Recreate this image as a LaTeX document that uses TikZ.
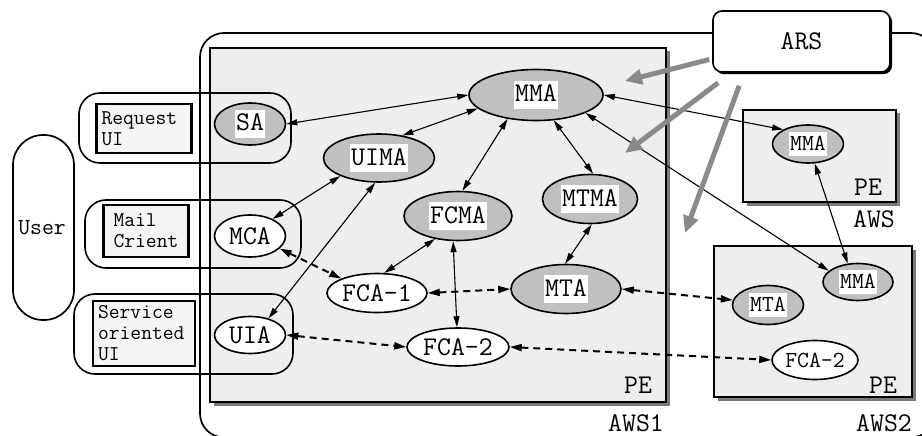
\documentclass[tikz,border=0pt]{standalone}
\usepackage{fontspec}
\usetikzlibrary{shapes.geometric,arrows.meta,shadows}
\definecolor{peFill}{HTML}{EEEEEE}
\definecolor{boxFill}{HTML}{F5F5F5}
\definecolor{ellGray}{HTML}{C0C0C0}
\definecolor{arrGray}{HTML}{8A8A8A}
\definecolor{shadeGray}{HTML}{7A7A7A}
\newcommand{\fbig}{\ttfamily\fontsize{27}{30}\selectfont}
\newcommand{\fsmall}{\ttfamily\fontsize{23}{26}\selectfont}
\newcommand{\ftxt}{\ttfamily\fontsize{21}{21}\selectfont}
\begin{document}
\begin{tikzpicture}[x=1pt,y=-1pt,
  pe/.style={draw, line width=1.7pt, fill=peFill, inner sep=0pt,
    general shadow={fill=shadeGray, shadow xshift=3.5pt, shadow yshift=-3.5pt}},
  grp/.style={draw, line width=1.6pt, rounded corners=21pt, inner sep=0pt},
  inbox/.style={draw, line width=2.2pt, fill=boxFill, align=left, font=\ftxt, inner ysep=2pt},
  gell/.style={ellipse, draw, line width=1.6pt, fill=ellGray, inner sep=0pt},
  well/.style={ellipse, draw, line width=1.6pt, fill=white, inner sep=0pt},
  lblbig/.style={fill=white, inner xsep=1.5pt, inner ysep=0pt, text height=21pt, text depth=7pt, font=\fbig},
  lblsmall/.style={fill=white, inner xsep=1pt, inner ysep=0pt, text height=18pt, text depth=6pt, font=\fsmall},
  tag/.style={font=\fbig, inner sep=0pt},
  link/.style={line width=1.1pt, arrows={Triangle[length=11pt,width=6pt]-Triangle[length=11pt,width=6pt]}},
  dlink/.style={line width=2pt, dash pattern=on 7pt off 5pt,
    arrows={Triangle[length=12pt,width=7pt]-Triangle[length=12pt,width=7pt]}},
  garr/.style={draw=arrGray, line width=5pt, -{Triangle[length=17pt,width=15pt]}}
]
\useasboundingbox (0,0) rectangle (922,436);
\clip (0,0) rectangle (922,436);

% outer AWS1 frame
\draw[line width=1.7pt, rounded corners=24pt] (200,33) rectangle (935,437.5);

% user
\node[draw, line width=1.7pt, rounded corners=30pt, minimum width=61pt, minimum height=185pt, inner sep=0pt]
  (user) at (43.5,227.5) {};
\node[font=\fsmall, inner sep=0pt] (usertxt) at (42,228) {User};

% platform environments
\node[pe, minimum width=456pt, minimum height=354pt] (pe1) at (438,225) {};
\node[pe, minimum width=153pt, minimum height=92pt] (pe2) at (819.5,156) {};
\node[pe, minimum width=198pt, minimum height=151pt] (pe3) at (813,321.5) {};
\node[tag] (pe1t) at (638,385) {PE};
\node[tag] (pe2t) at (868,187) {PE};
\node[tag] (pe3t) at (883,385) {PE};
\node[tag] (aws1) at (636,423) {AWS1};
\node[tag] (aws) at (874,219) {AWS};
\node[tag] (aws2) at (884,423) {AWS2};

% user interface groups
\node[grp, minimum width=212pt, minimum height=70pt] (g1) at (185,128) {};
\node[grp, minimum width=216pt, minimum height=68pt] (g2) at (193,234) {};
\node[grp, minimum width=219pt, minimum height=80pt] (g3) at (183.5,334) {};
\node[inbox, text width=85pt, inner xsep=5pt, minimum height=49pt] (b1) at (144,128.5) {Request\\UI};
\node[inbox, text width=65pt, inner xsep=10pt, minimum height=52pt] (b2) at (146,231) {Mail\\Crient};
\node[inbox, text width=92pt, inner xsep=5pt, minimum height=65pt] (b3) at (144,333.5) {Service\\oriented\\UI};

% ARS
\node[draw, line width=1.6pt, fill=white, rounded corners=9pt, minimum width=177pt, minimum height=61pt,
  general shadow={fill=black, shadow xshift=2.2pt, shadow yshift=-2.2pt}, font=\fbig]
  (ars) at (801.5,41.5) {ARS};

% agents
\node[gell, minimum width=134pt, minimum height=51pt, label={[lblbig]center:MMA}] (mma) at (536,95) {};
\node[gell, minimum width=111pt, minimum height=48pt, label={[lblbig]center:UIMA}] (uima) at (379,158) {};
\node[gell, minimum width=108pt, minimum height=49pt, label={[lblbig]center:FCMA}] (fcma) at (458,216) {};
\node[gell, minimum width=95pt, minimum height=49pt, label={[lblbig]center:MTMA}] (mtma) at (590,199) {};
\node[gell, minimum width=110pt, minimum height=49pt, label={[lblbig]center:MTA}] (mta) at (566,289) {};
\node[gell, minimum width=71pt, minimum height=42pt, label={[lblbig]center:SA}] (sa) at (250,124) {};
\node[well, minimum width=71pt, minimum height=42pt, font=\fbig] (mca) at (250,236) {MCA};
\node[well, minimum width=71pt, minimum height=37pt, font=\fbig] (uia) at (250,335) {UIA};
\node[well, minimum width=100pt, minimum height=39pt, font=\fbig] (fca1) at (377,293) {FCA-1};
\node[well, minimum width=102pt, minimum height=38pt, font=\fbig] (fca2) at (458,347) {FCA-2};
\node[gell, minimum width=71pt, minimum height=38pt, label={[lblsmall]center:MMA}] (mmab) at (808,144) {};
\node[gell, minimum width=70pt, minimum height=37pt, label={[lblsmall]center:MMA}] (mmac) at (858,282) {};
\node[gell, minimum width=71pt, minimum height=39pt, label={[lblsmall]center:MTA}] (mtab) at (768,305) {};
\node[well, minimum width=86pt, minimum height=39pt, font=\fsmall] (fcab) at (815,360) {FCA-2};

% management links
\draw[link] (sa.east) -- (mma.west);
\draw[link] (mma.193) -- (uima.44);
\draw[link] (uima.205) -- (mca.37);
\draw[link] (uima.261) -- (uia.42);
\draw[link] (mma.220) -- (fcma.80);
\draw[link] (mma.305) -- (mtma.83);
\draw[link] (fcma.225) -- (fca1.70);
\draw[link] (fcma.259) -- (fca2.93);
\draw[link] (mtma.274) -- (mta.92);
\draw[link] (mma.east) -- (mmab.150);
\draw[link] (mma.340) -- (mmac.159);
\draw[link] (mmab.289) -- (mmac.119);

% data links
\draw[dlink] (mca.337) -- (fca1.158);
\draw[dlink] (fca1.east) -- (mta.west);
\draw[dlink] (uia.east) -- (fca2.west);
\draw[dlink] (fca2.east) -- (fcab.west);
\draw[dlink] (mta.east) -- (mtab.172);

% ARS deployment arrows
\coordinate (h1) at (625,81);
\coordinate (h2) at (625,153);
\coordinate (h3) at (685,233);
\draw[garr] ([shift={(-3,18)}]ars.west) -- (h1);
\draw[garr] ([shift={(6,10)}]ars.south west) -- (h2);
\draw[garr] ([shift={(27,13)}]ars.south west) -- (h3);
\end{tikzpicture}
\end{document}
